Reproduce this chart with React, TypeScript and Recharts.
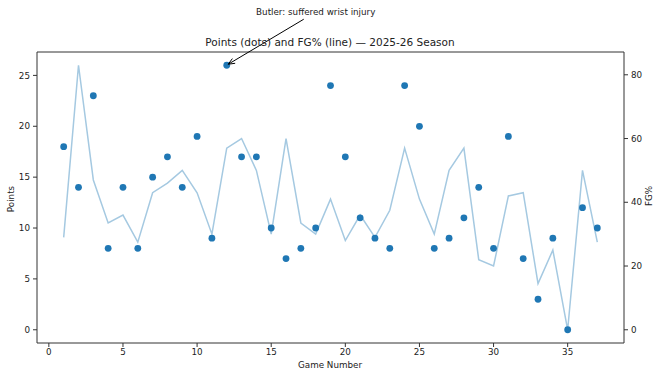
import React from "react";
import {
  ComposedChart,
  Line,
  Scatter,
  XAxis,
  YAxis,
  ReferenceDot,
  ReferenceLine,
} from "recharts";

const games = [
  1, 2, 3, 4, 5, 6, 7, 8, 9, 10, 11, 12, 13, 14, 15, 16, 17, 18, 19, 20, 21,
  22, 23, 24, 25, 26, 27, 28, 29, 30, 31, 32, 33, 34, 35, 36, 37,
];
const points = [
  18, 14, 23, 8, 14, 8, 15, 17, 14, 19, 9, 26, 17, 17, 10, 7, 8, 10, 24, 17, 11,
  9, 8, 24, 20, 8, 9, 11, 14, 8, 19, 7, 3, 9, 0, 12, 10,
];
const fgPct = [
  29, 83, 47, 33.5, 36, 27.5, 43, 46, 50, 43, 30, 57, 60, 50, 30, 60, 33.5, 30,
  41, 28, 36, 29, 37.5, 57, 41, 30, 50, 57, 22, 20, 42, 43, 14.5, 25, 0, 50,
  27.5,
];
const xTicks = [0, 5, 10, 15, 20, 25, 30, 35];
const pointTicks = [0, 5, 10, 15, 20, 25];
const fgTicks = [0, 20, 40, 60, 80];

const annotation = { game: 12, points: 26, text: "Butler: suffered wrist injury" };

const W = 660;
const H = 377;
const FONT = "DejaVu Sans, sans-serif";
const INK = "#222";
const FRAME = "#333";

const data = games.map((g, i) => ({ game: g, points: points[i], fg: fgPct[i] }));

function Dot(props: any) {
  return <circle cx={props.cx} cy={props.cy} r={3.4} fill="#1f77b4" />;
}

// text + arrow drawn relative to the annotated dot
function AnnotationShape(props: any) {
  const { cx, cy } = props;
  const sx = cx + 77;
  const sy = cy - 46;
  const ex = cx + 1.5;
  const ey = cy - 1;
  const ang = Math.atan2(ey - sy, ex - sx);
  const hl = 7;
  const a1 = ang + Math.PI - 0.4;
  const a2 = ang + Math.PI + 0.4;
  return (
    <g>
      <text
        x={cx + 89}
        y={cy - 50.5}
        textAnchor="middle"
        fontSize={8.75}
        fontFamily={FONT}
        fill={INK}
      >
        {annotation.text}
      </text>
      <line x1={sx} y1={sy} x2={ex} y2={ey} stroke="#000" strokeWidth={1} />
      <path
        d={`M${ex + hl * Math.cos(a1)},${ey + hl * Math.sin(a1)} L${ex},${ey} L${
          ex + hl * Math.cos(a2)
        },${ey + hl * Math.sin(a2)}`}
        fill="none"
        stroke="#000"
        strokeWidth={1}
      />
    </g>
  );
}

const tickStyle = { fontSize: 8.75, fill: INK, fontFamily: FONT };

export default function App() {
  return (
    <div style={{ position: "relative", width: W, height: H, fontFamily: FONT }}>
      <style>{`body{margin:0;}`}</style>
      <ComposedChart
        width={W}
        height={H}
        data={data}
        margin={{ top: 52, right: 0, left: 0, bottom: 0 }}
      >
        <XAxis
          dataKey="game"
          type="number"
          domain={[-0.8, 38.8]}
          ticks={xTicks}
          allowDataOverflow
          height={34}
          tickSize={4}
          tickMargin={2}
          tick={tickStyle}
          axisLine={{ stroke: FRAME }}
          tickLine={{ stroke: FRAME }}
        />
        <YAxis
          yAxisId="left"
          type="number"
          domain={[-1.3, 27.3]}
          ticks={pointTicks}
          allowDataOverflow
          width={37}
          tickSize={4}
          tickMargin={3}
          tick={tickStyle}
          axisLine={{ stroke: FRAME }}
          tickLine={{ stroke: FRAME }}
        />
        <YAxis
          yAxisId="right"
          orientation="right"
          type="number"
          domain={[-4.15, 87.15]}
          ticks={fgTicks}
          allowDataOverflow
          width={36}
          tickSize={4}
          tickMargin={3}
          tick={tickStyle}
          axisLine={{ stroke: FRAME }}
          tickLine={{ stroke: FRAME }}
        />
        <ReferenceLine yAxisId="left" y={27.3} stroke={FRAME} ifOverflow="visible" />
        <Line
          yAxisId="right"
          dataKey="fg"
          type="linear"
          stroke="#a5c9e1"
          strokeWidth={1.5}
          dot={false}
          activeDot={false}
          isAnimationActive={false}
        />
        <Scatter
          yAxisId="left"
          dataKey="points"
          shape={Dot}
          isAnimationActive={false}
        />
        <ReferenceDot
          yAxisId="left"
          x={annotation.game}
          y={annotation.points}
          ifOverflow="visible"
          shape={AnnotationShape}
        />
      </ComposedChart>
      <svg
        width={W}
        height={H}
        style={{ position: "absolute", left: 0, top: 0, pointerEvents: "none" }}
      >
        <text x={330} y={45.5} textAnchor="middle" fontSize={10.5} fontFamily={FONT} fill={INK}>
          Points (dots) and FG% (line) — 2025-26 Season
        </text>
        <text x={330} y={368} textAnchor="middle" fontSize={8.75} fontFamily={FONT} fill={INK}>
          Game Number
        </text>
        <text
          x={0}
          y={0}
          transform="translate(14,199) rotate(-90)"
          textAnchor="middle"
          fontSize={8.75}
          fontFamily={FONT}
          fill={INK}
        >
          Points
        </text>
        <text
          x={0}
          y={0}
          transform="translate(652,196) rotate(-90)"
          textAnchor="middle"
          fontSize={8.75}
          fontFamily={FONT}
          fill={INK}
        >
          FG%
        </text>
      </svg>
    </div>
  );
}
